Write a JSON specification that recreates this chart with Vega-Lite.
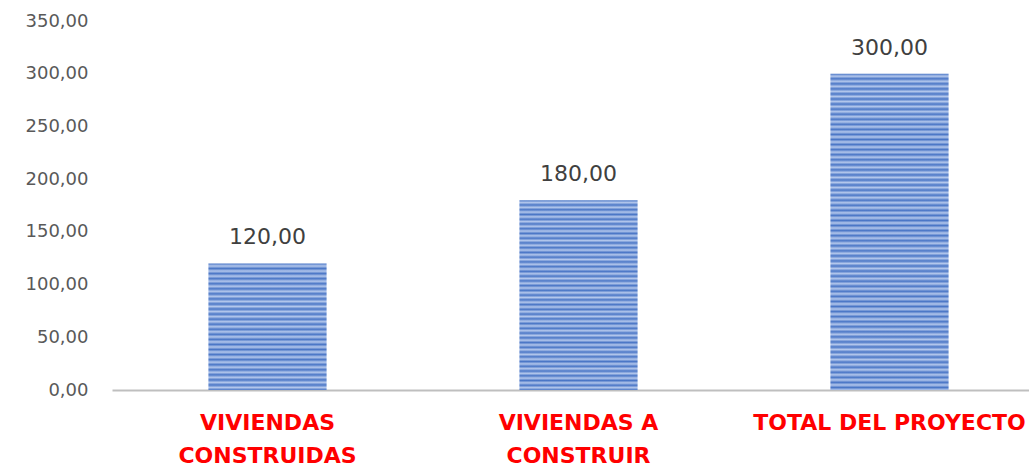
{
  "$schema": "https://vega.github.io/schema/vega-lite/v6.json",
  "autosize": {"type": "none"},
  "padding": {"left": 112, "top": 21, "right": 0, "bottom": 80},
  "width": 933,
  "height": 369,
  "background": "white",
  "config": {
    "view": {"stroke": null},
    "font": "DejaVu Sans",
    "locale": {"number": {"decimal": ",", "thousands": ".", "grouping": [3], "currency": ["", ""]}}
  },
  "data": {"values": [
    {"categoria": "VIVIENDAS CONSTRUIDAS", "valor": 120},
    {"categoria": "VIVIENDAS A CONSTRUIR", "valor": 180},
    {"categoria": "TOTAL DEL PROYECTO", "valor": 300}
  ]},
  "encoding": {
    "x": {"field": "categoria", "type": "nominal", "sort": null,
      "scale": {"domain": ["VIVIENDAS CONSTRUIDAS", "VIVIENDAS A CONSTRUIR", "TOTAL DEL PROYECTO"], "paddingInner": 0.62, "paddingOuter": 0.31},
      "axis": {"title": null, "labelAngle": 0, "ticks": false,
        "domainColor": "#bfbfbf", "domainWidth": 2,
        "labelColor": "#ff0000", "labelFontWeight": "bold", "labelFontSize": 22,
        "labelFont": "DejaVu Sans", "labelPadding": 22, "labelLineHeight": 33,
        "labelBaseline": "top", "labelLimit": 0, "labelOverlap": false,
        "labelExpr": "datum.value == 'VIVIENDAS CONSTRUIDAS' ? ['VIVIENDAS','CONSTRUIDAS'] : datum.value == 'VIVIENDAS A CONSTRUIR' ? ['VIVIENDAS A','CONSTRUIR'] : datum.value"}},
    "y": {"field": "valor", "type": "quantitative",
      "scale": {"domain": [0, 350], "nice": false},
      "axis": {"title": null, "values": [0, 50, 100, 150, 200, 250, 300, 350],
        "format": ",.2f", "grid": false, "domain": false, "ticks": false,
        "labelPadding": 24, "labelFontSize": 18, "labelColor": "#595959",
        "labelFont": "DejaVu Sans"}}
  },
  "layer": [
    {"transform": [{"filter": "datum.categoria == 'VIVIENDAS CONSTRUIDAS'"}],
     "mark": {"type": "bar", "fill": {"gradient": "linear", "x1": 0, "y1": 0, "x2": 0, "y2": 1, "stops": [
      {"offset": 0, "color": "#4a76c6"}, {"offset": 0.02, "color": "#b3c7ec"}, {"offset": 0.04, "color": "#4a76c6"}, {"offset": 0.06, "color": "#b3c7ec"}, {"offset": 0.08, "color": "#4a76c6"}, {"offset": 0.1, "color": "#b3c7ec"}, {"offset": 0.12, "color": "#4a76c6"}, {"offset": 0.14, "color": "#b3c7ec"}, {"offset": 0.16, "color": "#4a76c6"}, {"offset": 0.18, "color": "#b3c7ec"}, {"offset": 0.2, "color": "#4a76c6"}, {"offset": 0.22, "color": "#b3c7ec"}, {"offset": 0.24, "color": "#4a76c6"}, {"offset": 0.26, "color": "#b3c7ec"}, {"offset": 0.28, "color": "#4a76c6"}, {"offset": 0.3, "color": "#b3c7ec"}, {"offset": 0.32, "color": "#4a76c6"}, {"offset": 0.34, "color": "#b3c7ec"}, {"offset": 0.36, "color": "#4a76c6"}, {"offset": 0.38, "color": "#b3c7ec"}, {"offset": 0.4, "color": "#4a76c6"}, {"offset": 0.42, "color": "#b3c7ec"}, {"offset": 0.44, "color": "#4a76c6"}, {"offset": 0.46, "color": "#b3c7ec"}, {"offset": 0.48, "color": "#4a76c6"}, {"offset": 0.5, "color": "#b3c7ec"}, {"offset": 0.52, "color": "#4a76c6"}, {"offset": 0.54, "color": "#b3c7ec"}, {"offset": 0.56, "color": "#4a76c6"}, {"offset": 0.58, "color": "#b3c7ec"}, {"offset": 0.6, "color": "#4a76c6"}, {"offset": 0.62, "color": "#b3c7ec"}, {"offset": 0.64, "color": "#4a76c6"}, {"offset": 0.66, "color": "#b3c7ec"}, {"offset": 0.68, "color": "#4a76c6"}, {"offset": 0.7, "color": "#b3c7ec"}, {"offset": 0.72, "color": "#4a76c6"}, {"offset": 0.74, "color": "#b3c7ec"}, {"offset": 0.76, "color": "#4a76c6"}, {"offset": 0.78, "color": "#b3c7ec"}, {"offset": 0.8, "color": "#4a76c6"}, {"offset": 0.82, "color": "#b3c7ec"}, {"offset": 0.84, "color": "#4a76c6"}, {"offset": 0.86, "color": "#b3c7ec"}, {"offset": 0.88, "color": "#4a76c6"}, {"offset": 0.9, "color": "#b3c7ec"}, {"offset": 0.92, "color": "#4a76c6"}, {"offset": 0.94, "color": "#b3c7ec"}, {"offset": 0.96, "color": "#4a76c6"}, {"offset": 0.98, "color": "#b3c7ec"}, {"offset": 1, "color": "#4a76c6"}
     ]}}},
    {"transform": [{"filter": "datum.categoria == 'VIVIENDAS A CONSTRUIR'"}],
     "mark": {"type": "bar", "fill": {"gradient": "linear", "x1": 0, "y1": 0, "x2": 0, "y2": 1, "stops": [
      {"offset": 0, "color": "#4a76c6"}, {"offset": 0.0125, "color": "#b3c7ec"}, {"offset": 0.025, "color": "#4a76c6"}, {"offset": 0.0375, "color": "#b3c7ec"}, {"offset": 0.05, "color": "#4a76c6"}, {"offset": 0.0625, "color": "#b3c7ec"}, {"offset": 0.075, "color": "#4a76c6"}, {"offset": 0.0875, "color": "#b3c7ec"}, {"offset": 0.1, "color": "#4a76c6"}, {"offset": 0.1125, "color": "#b3c7ec"}, {"offset": 0.125, "color": "#4a76c6"}, {"offset": 0.1375, "color": "#b3c7ec"}, {"offset": 0.15, "color": "#4a76c6"}, {"offset": 0.1625, "color": "#b3c7ec"}, {"offset": 0.175, "color": "#4a76c6"}, {"offset": 0.1875, "color": "#b3c7ec"}, {"offset": 0.2, "color": "#4a76c6"}, {"offset": 0.2125, "color": "#b3c7ec"}, {"offset": 0.225, "color": "#4a76c6"}, {"offset": 0.2375, "color": "#b3c7ec"}, {"offset": 0.25, "color": "#4a76c6"}, {"offset": 0.2625, "color": "#b3c7ec"}, {"offset": 0.275, "color": "#4a76c6"}, {"offset": 0.2875, "color": "#b3c7ec"}, {"offset": 0.3, "color": "#4a76c6"}, {"offset": 0.3125, "color": "#b3c7ec"}, {"offset": 0.325, "color": "#4a76c6"}, {"offset": 0.3375, "color": "#b3c7ec"}, {"offset": 0.35, "color": "#4a76c6"}, {"offset": 0.3625, "color": "#b3c7ec"}, {"offset": 0.375, "color": "#4a76c6"}, {"offset": 0.3875, "color": "#b3c7ec"}, {"offset": 0.4, "color": "#4a76c6"}, {"offset": 0.4125, "color": "#b3c7ec"}, {"offset": 0.425, "color": "#4a76c6"}, {"offset": 0.4375, "color": "#b3c7ec"}, {"offset": 0.45, "color": "#4a76c6"}, {"offset": 0.4625, "color": "#b3c7ec"}, {"offset": 0.475, "color": "#4a76c6"}, {"offset": 0.4875, "color": "#b3c7ec"}, {"offset": 0.5, "color": "#4a76c6"}, {"offset": 0.5125, "color": "#b3c7ec"}, {"offset": 0.525, "color": "#4a76c6"}, {"offset": 0.5375, "color": "#b3c7ec"}, {"offset": 0.55, "color": "#4a76c6"}, {"offset": 0.5625, "color": "#b3c7ec"}, {"offset": 0.575, "color": "#4a76c6"}, {"offset": 0.5875, "color": "#b3c7ec"}, {"offset": 0.6, "color": "#4a76c6"}, {"offset": 0.6125, "color": "#b3c7ec"}, {"offset": 0.625, "color": "#4a76c6"}, {"offset": 0.6375, "color": "#b3c7ec"}, {"offset": 0.65, "color": "#4a76c6"}, {"offset": 0.6625, "color": "#b3c7ec"}, {"offset": 0.675, "color": "#4a76c6"}, {"offset": 0.6875, "color": "#b3c7ec"}, {"offset": 0.7, "color": "#4a76c6"}, {"offset": 0.7125, "color": "#b3c7ec"}, {"offset": 0.725, "color": "#4a76c6"}, {"offset": 0.7375, "color": "#b3c7ec"}, {"offset": 0.75, "color": "#4a76c6"}, {"offset": 0.7625, "color": "#b3c7ec"}, {"offset": 0.775, "color": "#4a76c6"}, {"offset": 0.7875, "color": "#b3c7ec"}, {"offset": 0.8, "color": "#4a76c6"}, {"offset": 0.8125, "color": "#b3c7ec"}, {"offset": 0.825, "color": "#4a76c6"}, {"offset": 0.8375, "color": "#b3c7ec"}, {"offset": 0.85, "color": "#4a76c6"}, {"offset": 0.8625, "color": "#b3c7ec"}, {"offset": 0.875, "color": "#4a76c6"}, {"offset": 0.8875, "color": "#b3c7ec"}, {"offset": 0.9, "color": "#4a76c6"}, {"offset": 0.9125, "color": "#b3c7ec"}, {"offset": 0.925, "color": "#4a76c6"}, {"offset": 0.9375, "color": "#b3c7ec"}, {"offset": 0.95, "color": "#4a76c6"}, {"offset": 0.9625, "color": "#b3c7ec"}, {"offset": 0.975, "color": "#4a76c6"}, {"offset": 0.9875, "color": "#b3c7ec"}, {"offset": 1, "color": "#4a76c6"}
     ]}}},
    {"transform": [{"filter": "datum.categoria == 'TOTAL DEL PROYECTO'"}],
     "mark": {"type": "bar", "fill": {"gradient": "linear", "x1": 0, "y1": 0, "x2": 0, "y2": 1, "stops": [
      {"offset": 0, "color": "#4a76c6"}, {"offset": 0.008, "color": "#b3c7ec"}, {"offset": 0.016, "color": "#4a76c6"}, {"offset": 0.024, "color": "#b3c7ec"}, {"offset": 0.032, "color": "#4a76c6"}, {"offset": 0.04, "color": "#b3c7ec"}, {"offset": 0.048, "color": "#4a76c6"}, {"offset": 0.056, "color": "#b3c7ec"}, {"offset": 0.064, "color": "#4a76c6"}, {"offset": 0.072, "color": "#b3c7ec"}, {"offset": 0.08, "color": "#4a76c6"}, {"offset": 0.088, "color": "#b3c7ec"}, {"offset": 0.096, "color": "#4a76c6"}, {"offset": 0.104, "color": "#b3c7ec"}, {"offset": 0.112, "color": "#4a76c6"}, {"offset": 0.12, "color": "#b3c7ec"}, {"offset": 0.128, "color": "#4a76c6"}, {"offset": 0.136, "color": "#b3c7ec"}, {"offset": 0.144, "color": "#4a76c6"}, {"offset": 0.152, "color": "#b3c7ec"}, {"offset": 0.16, "color": "#4a76c6"}, {"offset": 0.168, "color": "#b3c7ec"}, {"offset": 0.176, "color": "#4a76c6"}, {"offset": 0.184, "color": "#b3c7ec"}, {"offset": 0.192, "color": "#4a76c6"}, {"offset": 0.2, "color": "#b3c7ec"}, {"offset": 0.208, "color": "#4a76c6"}, {"offset": 0.216, "color": "#b3c7ec"}, {"offset": 0.224, "color": "#4a76c6"}, {"offset": 0.232, "color": "#b3c7ec"}, {"offset": 0.24, "color": "#4a76c6"}, {"offset": 0.248, "color": "#b3c7ec"}, {"offset": 0.256, "color": "#4a76c6"}, {"offset": 0.264, "color": "#b3c7ec"}, {"offset": 0.272, "color": "#4a76c6"}, {"offset": 0.28, "color": "#b3c7ec"}, {"offset": 0.288, "color": "#4a76c6"}, {"offset": 0.296, "color": "#b3c7ec"}, {"offset": 0.304, "color": "#4a76c6"}, {"offset": 0.312, "color": "#b3c7ec"}, {"offset": 0.32, "color": "#4a76c6"}, {"offset": 0.328, "color": "#b3c7ec"}, {"offset": 0.336, "color": "#4a76c6"}, {"offset": 0.344, "color": "#b3c7ec"}, {"offset": 0.352, "color": "#4a76c6"}, {"offset": 0.36, "color": "#b3c7ec"}, {"offset": 0.368, "color": "#4a76c6"}, {"offset": 0.376, "color": "#b3c7ec"}, {"offset": 0.384, "color": "#4a76c6"}, {"offset": 0.392, "color": "#b3c7ec"}, {"offset": 0.4, "color": "#4a76c6"}, {"offset": 0.408, "color": "#b3c7ec"}, {"offset": 0.416, "color": "#4a76c6"}, {"offset": 0.424, "color": "#b3c7ec"}, {"offset": 0.432, "color": "#4a76c6"}, {"offset": 0.44, "color": "#b3c7ec"}, {"offset": 0.448, "color": "#4a76c6"}, {"offset": 0.456, "color": "#b3c7ec"}, {"offset": 0.464, "color": "#4a76c6"}, {"offset": 0.472, "color": "#b3c7ec"}, {"offset": 0.48, "color": "#4a76c6"}, {"offset": 0.488, "color": "#b3c7ec"}, {"offset": 0.496, "color": "#4a76c6"}, {"offset": 0.504, "color": "#b3c7ec"}, {"offset": 0.512, "color": "#4a76c6"}, {"offset": 0.52, "color": "#b3c7ec"}, {"offset": 0.528, "color": "#4a76c6"}, {"offset": 0.536, "color": "#b3c7ec"}, {"offset": 0.544, "color": "#4a76c6"}, {"offset": 0.552, "color": "#b3c7ec"}, {"offset": 0.56, "color": "#4a76c6"}, {"offset": 0.568, "color": "#b3c7ec"}, {"offset": 0.576, "color": "#4a76c6"}, {"offset": 0.584, "color": "#b3c7ec"}, {"offset": 0.592, "color": "#4a76c6"}, {"offset": 0.6, "color": "#b3c7ec"}, {"offset": 0.608, "color": "#4a76c6"}, {"offset": 0.616, "color": "#b3c7ec"}, {"offset": 0.624, "color": "#4a76c6"}, {"offset": 0.632, "color": "#b3c7ec"}, {"offset": 0.64, "color": "#4a76c6"}, {"offset": 0.648, "color": "#b3c7ec"}, {"offset": 0.656, "color": "#4a76c6"}, {"offset": 0.664, "color": "#b3c7ec"}, {"offset": 0.672, "color": "#4a76c6"}, {"offset": 0.68, "color": "#b3c7ec"}, {"offset": 0.688, "color": "#4a76c6"}, {"offset": 0.696, "color": "#b3c7ec"}, {"offset": 0.704, "color": "#4a76c6"}, {"offset": 0.712, "color": "#b3c7ec"}, {"offset": 0.72, "color": "#4a76c6"}, {"offset": 0.728, "color": "#b3c7ec"}, {"offset": 0.736, "color": "#4a76c6"}, {"offset": 0.744, "color": "#b3c7ec"}, {"offset": 0.752, "color": "#4a76c6"}, {"offset": 0.76, "color": "#b3c7ec"}, {"offset": 0.768, "color": "#4a76c6"}, {"offset": 0.776, "color": "#b3c7ec"}, {"offset": 0.784, "color": "#4a76c6"}, {"offset": 0.792, "color": "#b3c7ec"}, {"offset": 0.8, "color": "#4a76c6"}, {"offset": 0.808, "color": "#b3c7ec"}, {"offset": 0.816, "color": "#4a76c6"}, {"offset": 0.824, "color": "#b3c7ec"}, {"offset": 0.832, "color": "#4a76c6"}, {"offset": 0.84, "color": "#b3c7ec"}, {"offset": 0.848, "color": "#4a76c6"}, {"offset": 0.856, "color": "#b3c7ec"}, {"offset": 0.864, "color": "#4a76c6"}, {"offset": 0.872, "color": "#b3c7ec"}, {"offset": 0.88, "color": "#4a76c6"}, {"offset": 0.888, "color": "#b3c7ec"}, {"offset": 0.896, "color": "#4a76c6"}, {"offset": 0.904, "color": "#b3c7ec"}, {"offset": 0.912, "color": "#4a76c6"}, {"offset": 0.92, "color": "#b3c7ec"}, {"offset": 0.928, "color": "#4a76c6"}, {"offset": 0.936, "color": "#b3c7ec"}, {"offset": 0.944, "color": "#4a76c6"}, {"offset": 0.952, "color": "#b3c7ec"}, {"offset": 0.96, "color": "#4a76c6"}, {"offset": 0.968, "color": "#b3c7ec"}, {"offset": 0.976, "color": "#4a76c6"}, {"offset": 0.984, "color": "#b3c7ec"}, {"offset": 0.992, "color": "#4a76c6"}, {"offset": 1, "color": "#b3c7ec"}
     ]}}},
    {"mark": {"type": "text", "baseline": "bottom", "dy": -14, "fontSize": 22, "color": "#404040", "font": "DejaVu Sans"},
      "encoding": {"text": {"field": "valor", "type": "quantitative", "format": ",.2f"}}}
  ]
}
